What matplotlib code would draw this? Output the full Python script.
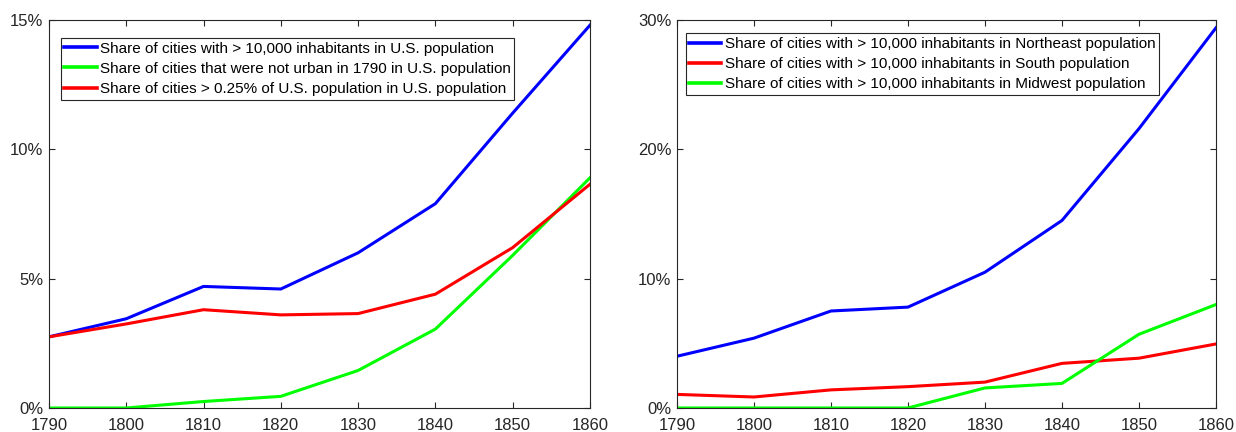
import matplotlib.pyplot as plt
from matplotlib.ticker import FuncFormatter

plt.rcParams["font.family"] = ["Liberation Sans", "DejaVu Sans"]

years = [1790, 1800, 1810, 1820, 1830, 1840, 1850, 1860]

# left panel, % of U.S. population
us_big = [2.75, 3.45, 4.7, 4.6, 6.0, 7.9, 11.4, 14.8]
us_new = [0.0, 0.0, 0.25, 0.45, 1.45, 3.05, 5.9, 8.9]
us_share = [2.75, 3.25, 3.8, 3.6, 3.65, 4.4, 6.2, 8.65]

# right panel, % of regional population
northeast = [4.0, 5.4, 7.5, 7.8, 10.5, 14.5, 21.6, 29.4]
south = [1.05, 0.85, 1.4, 1.65, 2.0, 3.45, 3.85, 4.95]
midwest = [0.0, 0.0, 0.0, 0.0, 1.55, 1.9, 5.7, 8.0]

left_labels = [
    "Share of cities with > 10,000 inhabitants in U.S. population",
    "Share of cities that were not urban in 1790 in U.S. population",
    "Share of cities > 0.25% of U.S. population in U.S. population",
]
right_labels = [
    "Share of cities with > 10,000 inhabitants in Northeast population",
    "Share of cities with > 10,000 inhabitants in South population",
    "Share of cities with > 10,000 inhabitants in Midwest population",
]

BLUE, GREEN, RED = "#0000ff", "#00ff00", "#ff0000"
AXC = "#262626"
LW = 2.2


def style_axes(ax, ymax, step):
    ax.set_xlim(1790, 1860)
    ax.set_ylim(0, ymax)
    ax.set_xticks(years)
    ax.set_yticks(range(0, ymax + 1, step))
    ax.yaxis.set_major_formatter(FuncFormatter(lambda v, p: f"{v:.0f}%"))
    ax.tick_params(direction="in", top=True, right=True, length=4,
                   labelsize=12, colors=AXC, labelcolor=AXC)
    ax.tick_params(axis="x", pad=7)
    ax.tick_params(axis="y", pad=4)
    for s in ax.spines.values():
        s.set_color(AXC)
        s.set_linewidth(0.8)


def add_legend(ax, anchor):
    leg = ax.legend(loc="upper left", bbox_to_anchor=anchor, fontsize=11,
                    frameon=True, fancybox=False, edgecolor=AXC, framealpha=1,
                    handlelength=2.1, handletextpad=0.2, borderpad=0.25,
                    labelspacing=0.4, borderaxespad=0)
    leg.get_frame().set_linewidth(0.8)
    for line in leg.get_lines():
        line.set_linewidth(2.6)


fig = plt.figure(figsize=(12.36, 4.32), dpi=100)
ax1 = fig.add_axes([0.0396, 0.0556, 0.4377, 0.898])
ax2 = fig.add_axes([0.5477, 0.0556, 0.4361, 0.898])

ax1.plot(years, us_big, color=BLUE, lw=LW, label=left_labels[0])
ax1.plot(years, us_new, color=GREEN, lw=LW, label=left_labels[1])
ax1.plot(years, us_share, color=RED, lw=LW, label=left_labels[2])
style_axes(ax1, 15, 5)
add_legend(ax1, (0.0216, 0.954))

ax2.plot(years, northeast, color=BLUE, lw=LW, label=right_labels[0])
ax2.plot(years, south, color=RED, lw=LW, label=right_labels[1])
ax2.plot(years, midwest, color=GREEN, lw=LW, label=right_labels[2])
style_axes(ax2, 30, 10)
add_legend(ax2, (0.016, 0.966))

fig.savefig("out.png", dpi=100)
